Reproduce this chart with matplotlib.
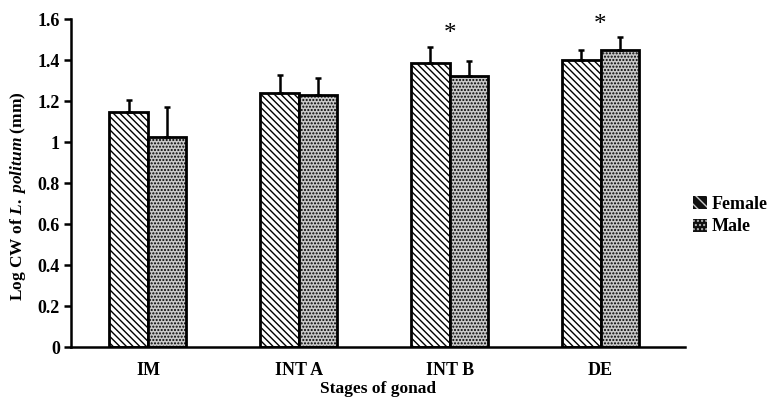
import matplotlib
matplotlib.use("Agg")
import matplotlib.pyplot as plt
from matplotlib.patches import Patch
import numpy as np

categories = ["IM", "INT A", "INT B", "DE"]
female = [1.147, 1.241, 1.384, 1.402]
female_err = [0.058, 0.085, 0.080, 0.047]
male = [1.026, 1.229, 1.320, 1.447]
male_err = [0.146, 0.082, 0.073, 0.063]
star_cats = [2, 3]
star_vals = [1.525, 1.57]

plt.rcParams['font.family'] = ['Liberation Serif', 'DejaVu Serif']
plt.rcParams['font.weight'] = 'bold'
plt.rcParams['mathtext.fontset'] = 'custom'
plt.rcParams['mathtext.rm'] = 'Liberation Serif:bold'
plt.rcParams['mathtext.it'] = 'Liberation Serif:italic:bold'
plt.rcParams['hatch.linewidth'] = 1.0

fig = plt.figure(figsize=(7.77, 4.05), dpi=100)
ax = fig.add_axes([0.0914, 0.1432, 0.7902, 0.8098])

x = np.arange(len(categories))
w = 0.255
bf = ax.bar(x - w/2, female, w, facecolor='white', edgecolor='black', hatch='\\\\\\\\\\', linewidth=2.0, zorder=2)
bm = ax.bar(x + w/2, male, w, facecolor='#c8c8c8', edgecolor='black', hatch='.....', linewidth=2.0, zorder=2)
ax.errorbar(x - w/2, female, yerr=[np.zeros(4), female_err], fmt='none', ecolor='black', elinewidth=1.8, capsize=2.5, capthick=1.8, zorder=3)
ax.errorbar(x + w/2, male, yerr=[np.zeros(4), male_err], fmt='none', ecolor='black', elinewidth=1.8, capsize=2.5, capthick=1.8, zorder=3)

for c, v in zip(star_cats, star_vals):
    ax.text(c, v, '*', ha='center', va='center', fontsize=18, fontweight='normal')

ax.set_xlim(-0.51, 3.56)
ax.set_ylim(0, 1.6)
ax.set_yticks([0, 0.2, 0.4, 0.6, 0.8, 1.0, 1.2, 1.4, 1.6])
ax.set_yticklabels(['0', '0.2', '0.4', '0.6', '0.8', '1', '1.2', '1.4', '1.6'])
ax.set_xticks(x)
ax.set_xticklabels(categories)
ax.tick_params(axis='x', length=0, pad=11, labelsize=13)
ax.tick_params(axis='y', direction='out', length=5, width=1.8, labelsize=13, pad=3)
for s in ['top', 'right']:
    ax.spines[s].set_visible(False)
for s in ['left', 'bottom']:
    ax.spines[s].set_linewidth(1.8)

ax.set_xlabel('Stages of gonad', fontsize=12.5, fontweight='bold', labelpad=1)
ax.set_ylabel(r'Log CW of $\mathit{L.\ politum}$ (mm)', fontsize=12.5, fontweight='bold')
ax.yaxis.set_label_coords(-0.07, 0.46)

handles = [Patch(facecolor='#111111', edgecolor='#cccccc', hatch='\\\\\\', linewidth=0, label='Female'),
           Patch(facecolor='#111111', edgecolor='#bbbbbb', hatch='....', linewidth=0, label='Male')]
leg = fig.legend(handles=handles, loc='upper left', bbox_to_anchor=(0.871, 0.556), frameon=False,
                 fontsize=13, handlelength=0.75, handleheight=0.75, handletextpad=0.3, labelspacing=0.3)
for t in leg.get_texts():
    t.set_fontweight('bold')

fig.savefig('out.png', dpi=100)
